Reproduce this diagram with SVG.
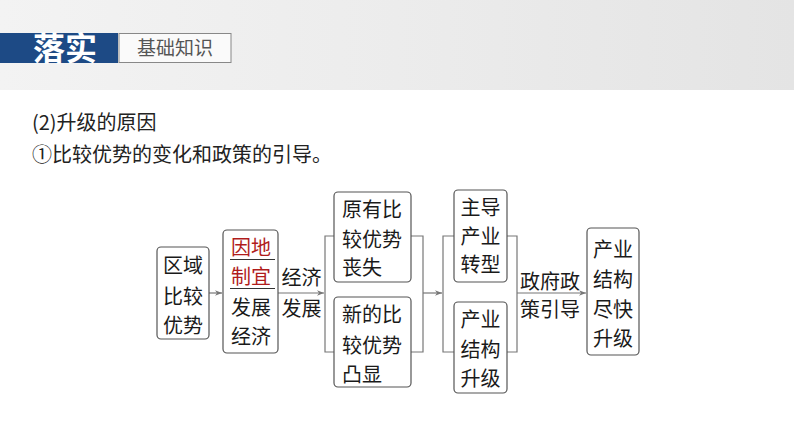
<svg xmlns="http://www.w3.org/2000/svg" width="794" height="447" viewBox="0 0 794 447">
<defs>
<linearGradient id="hdr" x1="0" y1="0" x2="1" y2="0">
<stop offset="0" stop-color="#f3f3f3"/>
<stop offset="0.5" stop-color="#ececec"/>
<stop offset="1" stop-color="#e4e4e4"/>
</linearGradient>
<marker id="arr" viewBox="0 0 10 10" refX="10" refY="5" markerWidth="7" markerHeight="7" markerUnits="userSpaceOnUse" orient="auto">
<path d="M0,1 L10,5 L0,9 L3,5 Z" fill="#777"/>
</marker>
<style>
.box{fill:#fff;stroke:#555;stroke-width:1.2}
.t{font-family:"Noto Sans CJK SC","Noto Sans",sans-serif;font-size:20px;fill:#1a1a1a}
.c{text-anchor:middle}
.red{fill:#b01c1c}
.ln{fill:none;stroke:#777;stroke-width:1.2}
.hd{font-family:"Noto Sans CJK SC","Liberation Sans",sans-serif;font-size:20px;fill:#222}
</style>
</defs>
<rect x="0" y="0" width="794" height="447" fill="#fff"/>
<rect x="0" y="0" width="794" height="90" fill="url(#hdr)"/>
<rect x="0" y="33" width="118" height="30" fill="#1d4a85"/>
<text x="33" y="60" font-family="'Noto Sans CJK SC',sans-serif" font-size="32" font-weight="bold" fill="#fff">落实</text>
<rect x="119" y="33.5" width="112" height="29" fill="#fafafa" stroke="#888" stroke-width="1"/>
<text x="175" y="55" text-anchor="middle" font-family="'Noto Sans CJK SC',sans-serif" font-size="19" fill="#555">基础知识</text>
<text class="hd" x="32" y="130">(2)升级的原因</text>
<text class="hd" x="32" y="162">①比较优势的变化和政策的引导。</text>

<g id="connectors">
<line class="ln" x1="209" y1="293" x2="222" y2="293" marker-end="url(#arr)"/>
<line class="ln" x1="278" y1="293" x2="324" y2="293" marker-end="url(#arr)"/>
<path class="ln" d="M334,236 H325 V352 H334"/>
<path class="ln" d="M411,236 H423 V352 H411"/>
<line class="ln" x1="423" y1="293" x2="442" y2="293" marker-end="url(#arr)"/>
<path class="ln" d="M454,236 H443 V352 H454"/>
<path class="ln" d="M507,236 H517 V352 H507"/>
<line class="ln" x1="517" y1="293" x2="586" y2="293" marker-end="url(#arr)"/>
<text class="t c" x="301.5" y="285">经济</text>
<text class="t c" x="301.5" y="316">发展</text>
<text class="t c" x="550" y="289">政府政</text>
<text class="t c" x="550" y="317">策引导</text>
</g>

<g id="n1">
<rect class="box" x="157" y="247" width="52" height="92" rx="4"/>
<text class="t c" x="183" y="273">区域</text>
<text class="t c" x="183" y="304">比较</text>
<text class="t c" x="183" y="333">优势</text>
</g>
<g id="n2">
<rect class="box" x="223" y="230" width="55" height="123" rx="4"/>
<text class="t c red" x="251" y="255">因地</text>
<line x1="230" y1="259.5" x2="275" y2="259.5" stroke="#333" stroke-width="1.2"/>
<text class="t c red" x="251" y="284">制宜</text>
<line x1="230" y1="288.5" x2="275" y2="288.5" stroke="#333" stroke-width="1.2"/>
<text class="t c" x="251" y="315">发展</text>
<text class="t c" x="251" y="344">经济</text>
</g>
<g id="n3">
<rect class="box" x="334" y="192" width="77" height="90" rx="4"/>
<text class="t" x="342" y="217">原有比</text>
<text class="t" x="342" y="247">较优势</text>
<text class="t" x="342" y="275">丧失</text>
</g>
<g id="n4">
<rect class="box" x="334" y="297" width="77" height="90" rx="4"/>
<text class="t" x="342" y="322">新的比</text>
<text class="t" x="342" y="353">较优势</text>
<text class="t" x="342" y="382">凸显</text>
</g>
<g id="n5">
<rect class="box" x="454" y="190" width="53" height="92" rx="4"/>
<text class="t c" x="480.5" y="215">主导</text>
<text class="t c" x="480.5" y="244">产业</text>
<text class="t c" x="480.5" y="272">转型</text>
</g>
<g id="n6">
<rect class="box" x="454" y="302" width="53" height="91" rx="4"/>
<text class="t c" x="480.5" y="327">产业</text>
<text class="t c" x="480.5" y="357">结构</text>
<text class="t c" x="480.5" y="386">升级</text>
</g>
<g id="n7">
<rect class="box" x="587" y="228" width="52" height="127" rx="4"/>
<text class="t c" x="613" y="257">产业</text>
<text class="t c" x="613" y="287">结构</text>
<text class="t c" x="613" y="317">尽快</text>
<text class="t c" x="613" y="346">升级</text>
</g>
</svg>
